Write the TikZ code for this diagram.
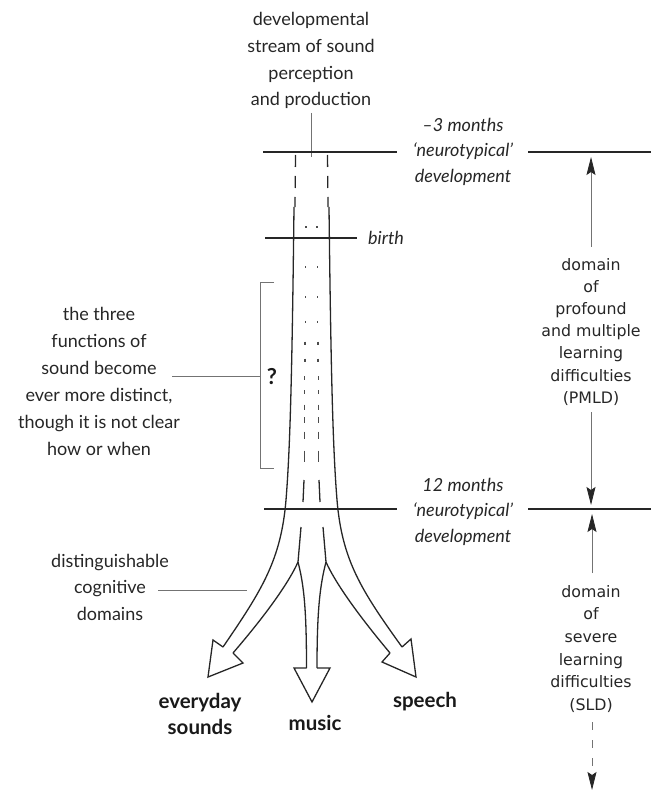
\documentclass[tikz,border=0pt]{standalone}
\usepackage{fontspec}
\setmainfont{Lato}
\newfontfamily\dvs{DejaVu Sans}
\usetikzlibrary{arrows.meta}
\begin{document}
\begin{tikzpicture}[x=1pt,y=-1pt,
  main/.style={line width=1.3pt,draw=black!85},
  hline/.style={line width=1.4pt,draw=black!85},
  thinl/.style={line width=0.8pt,draw=black!55},
  dotc/.style={line width=1.2pt,draw=black!70},
  lbl/.style={font=\fontsize{18}{20}\selectfont,text=black!85,inner sep=0pt,anchor=base},
  ital/.style={font=\fontsize{18}{20}\selectfont\itshape,text=black!85,inner sep=0pt,anchor=base},
  big/.style={font=\fontsize{20.5}{24}\selectfont\bfseries,text=black!90,inner sep=0pt,anchor=base},
  rl/.style={font=\dvs\fontsize{15.8}{18}\selectfont,text=black!85,inner sep=0pt,anchor=base},
  uptip/.style={-{Stealth[length=18pt,width=9pt,inset=3pt,color=black!85]}}
]
\useasboundingbox (0,0) rectangle (651,791);

% top label
\node[lbl] (t1) at (311,26) {developmental};
\node[lbl] (t2) at (311,53) {stream of sound};
\node[lbl] (t3) at (311,79.5) {perception};
\node[lbl] (t4) at (311,106) {and production};
\coordinate (tka) at (311,113);
\coordinate (tkb) at (311,157);
\draw[thinl] (tka) -- (tkb);

% -3 months line
\coordinate (m3a) at (263,152);
\coordinate (m3b) at (397,152);
\coordinate (m3c) at (528,152);
\coordinate (m3d) at (651,152);
\draw[hline] (m3a) -- (m3b);
\draw[hline] (m3c) -- (m3d);
\node[ital] (m3t1) at (463,131.5) {–3 months};
\node[ital] (m3t2) at (463,156.5) {‘neurotypical’};
\node[ital] (m3t3) at (463,182.5) {development};

% birth line
\coordinate (ba) at (265,238);
\coordinate (bb) at (357,238);
\draw[hline] (ba) -- (bb);
\node[ital,anchor=base west] (birth) at (368,245) {birth};

% 12 months line
\coordinate (m12a) at (264,509);
\coordinate (m12b) at (397,509);
\coordinate (m12c) at (528,509);
\coordinate (m12d) at (651,509);
\draw[hline] (m12a) -- (m12b);
\draw[hline] (m12c) -- (m12d);
\node[ital] (m12t1) at (463,491.5) {12 months};
\node[ital] (m12t2) at (463,516) {‘neurotypical’};
\node[ital] (m12t3) at (463,542.5) {development};

% stream: dashed top part
\draw[main,dash pattern=on 12pt off 9pt] (295.5,155) -- (295,207);
\draw[main,dash pattern=on 12pt off 9pt] (327.5,155) -- (328,207);

% outer lines
\coordinate (lo0) at (294,207);
\coordinate (lo1) at (286,500);
\coordinate (lo2) at (223,647);
\coordinate (ro0) at (329,207);
\coordinate (ro1) at (337,500);
\coordinate (ro2) at (402,647);
\draw[main] (lo0) .. controls (292,380) and (290,450) .. (lo1)
  .. controls (281,560) and (262,590) .. (lo2);
\draw[main] (ro0) .. controls (331,380) and (333,450) .. (ro1)
  .. controls (342,560) and (361,590) .. (ro2);

% inner dotted/dashed lines
\foreach \yy/\ll in {227/1.6,267/1.6,297/1.6,322/2.5,343/3,360/3,378/3.5,392/4,407/5,420/6,435/7,456/11}{
  \draw[dotc] ({306-0.008*(\yy-227)},{\yy-\ll/2}) -- ({306-0.008*(\yy-227)},{\yy+\ll/2});
  \draw[dotc] ({317+0.008*(\yy-227)},{\yy-\ll/2}) -- ({317+0.008*(\yy-227)},{\yy+\ll/2});
}
\draw[main] (304,480) -- (303,502);
\draw[main] (319,480) -- (320,502);

% lower inner lines with branching
\coordinate (li0) at (301,527);
\coordinate (lk) at (298,562);
\coordinate (ri0) at (323,527);
\coordinate (rk) at (326,562);
\coordinate (ms1) at (306.5,668);
\coordinate (ms2) at (317,668);
\coordinate (la) at (233,653);
\coordinate (ra) at (390,653);
\draw[main] (li0) -- (lk);
\draw[main] (ri0) -- (rk);
\draw[main] (lk) .. controls (304,585) and (306.5,610) .. (ms1);
\draw[main] (rk) .. controls (320,585) and (317,610) .. (ms2);
\draw[main] (lk) .. controls (290,580) and (270,610) .. (la);
\draw[main] (rk) .. controls (334,580) and (354,610) .. (ra);

% arrowheads
\draw[main,line join=miter] (lo2) -- (213,640) -- (208,677) -- (243,663) -- (la);
\draw[main,line join=miter] (ms1) -- (294,668) -- (312,702) -- (330,668) -- (ms2);
\draw[main,line join=miter] (ra) -- (382,662) -- (416,677) -- (411,639) -- (ro2);

% labels of the three arrows
\node[big] (ev1) at (200,708) {everyday};
\node[big] (ev2) at (200,734) {sounds};
\node[big] (mus) at (315,730) {music};
\node[big] (spe) at (425,707.5) {speech};

% left annotation with bracket
\node[lbl] (a1) at (99,320) {the three};
\node[lbl] (a2) at (99,347) {functions of};
\node[lbl] (a3) at (99,374) {sound become};
\node[lbl] (a4) at (99,401) {ever more distinct,};
\node[lbl] (a5) at (99,428) {though it is not clear};
\node[lbl] (a6) at (99,455) {how or when};
\coordinate (ac0) at (172,376);
\coordinate (ac1) at (260,376);
\draw[thinl] (ac0) -- (ac1);
\coordinate (bt) at (260,282);
\coordinate (bbm) at (260,468);
\draw[thinl] (274,282) -- (bt) -- (bbm) -- (274,468);
\node[font=\fontsize{22}{24}\selectfont\bfseries,text=black!90,inner sep=0pt] (q) at (272,377) {?};

% distinguishable cognitive domains
\node[lbl] (d1) at (110,567) {distinguishable};
\node[lbl] (d2) at (110,593.5) {cognitive};
\node[lbl] (d3) at (110,620) {domains};
\coordinate (dc0) at (158,590);
\coordinate (dc1) at (247,590);
\draw[thinl] (dc0) -- (dc1);

% right: PMLD
\coordinate (pa0) at (591,247);
\coordinate (pa1) at (591,157);
\draw[thinl,uptip] (pa0) -- (pa1);
\node[rl] (p1) at (591,270) {domain};
\node[rl] (p2) at (591,292.2) {of};
\node[rl] (p3) at (591,314.4) {profound};
\node[rl] (p4) at (591,336.6) {and multiple};
\node[rl] (p5) at (591,358.8) {learning};
\node[rl] (p6) at (591,381) {difficulties};
\node[rl] (p7) at (591,403.2) {(PMLD)};
\coordinate (pb0) at (591,412);
\coordinate (pb1) at (591,505);
\draw[thinl,uptip] (pb0) -- (pb1);

% right: SLD
\coordinate (sa0) at (592,573);
\coordinate (sa1) at (592,514);
\draw[thinl,uptip] (sa0) -- (sa1);
\node[rl] (s1) at (591,597) {domain};
\node[rl] (s2) at (591,619.7) {of};
\node[rl] (s3) at (591,642.4) {severe};
\node[rl] (s4) at (591,665.1) {learning};
\node[rl] (s5) at (591,687.8) {difficulties};
\node[rl] (s6) at (591,710.5) {(SLD)};
\coordinate (sb0) at (592,722);
\coordinate (sb1) at (592,790);
\draw[thinl,uptip,dash pattern=on 8pt off 10pt] (sb0) -- (sb1);
\end{tikzpicture}
\end{document}
